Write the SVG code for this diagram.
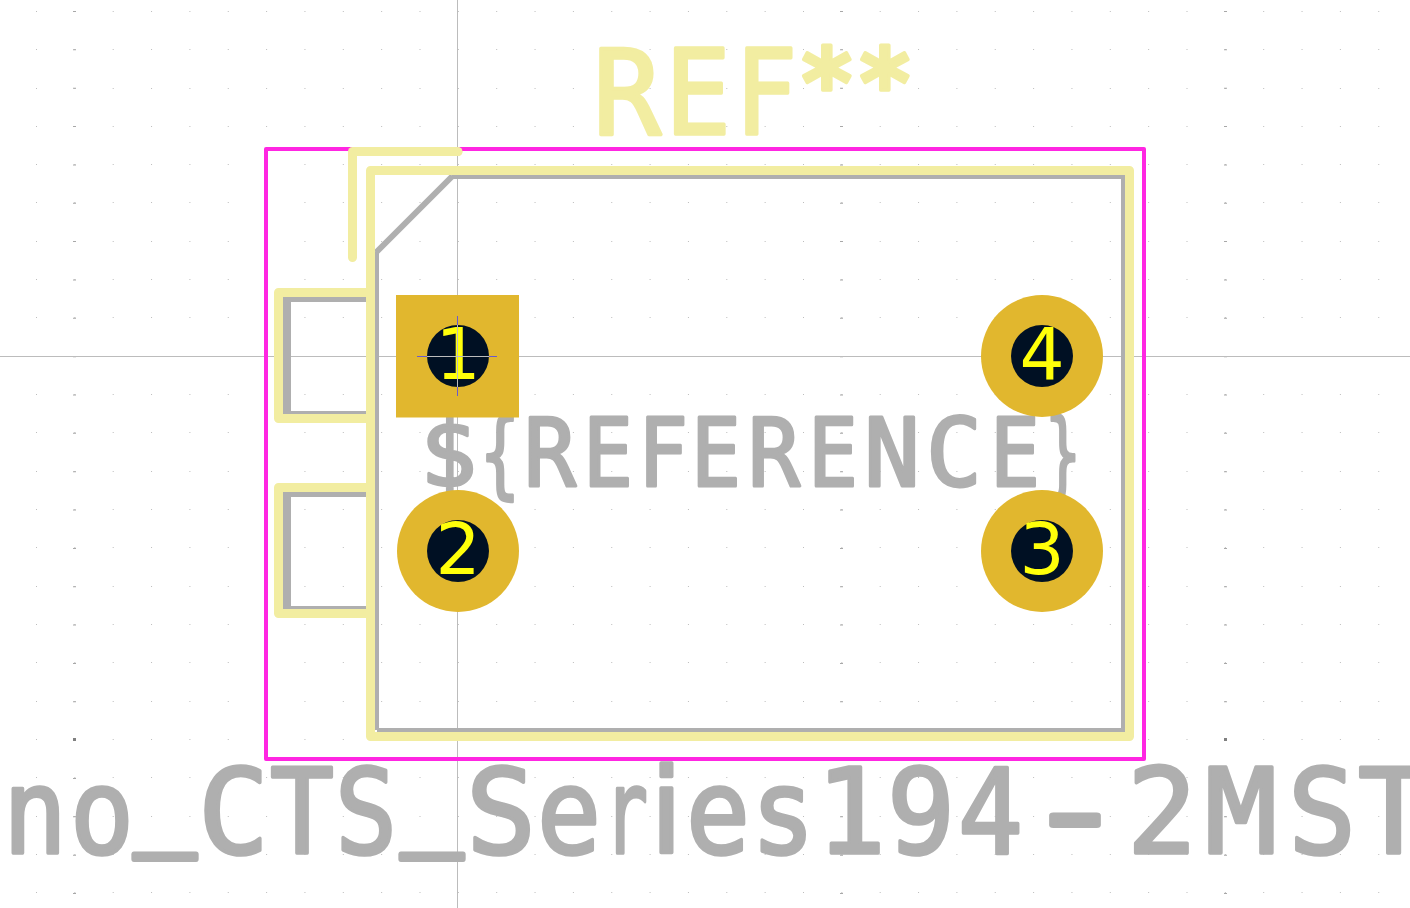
<svg xmlns="http://www.w3.org/2000/svg" width="1410" height="908" viewBox="0 0 1410 908">
<style>
.silk{fill:none;stroke:#f2eda1;stroke-width:9;stroke-linejoin:round;stroke-linecap:round}
.fab{fill:none;stroke:#afafaf;stroke-linejoin:miter}
.crt{fill:none;stroke:#ff26e2;stroke-width:4;stroke-linejoin:round}
.pad{fill:#e1b72e}
.hole{fill:#001023}
.num{font-family:"DejaVu Sans",sans-serif;font-size:71px;fill:#ffff0a;text-anchor:middle}
.big{font-family:"DejaVu Sans Mono",monospace;stroke-linejoin:round;stroke-linecap:round}
.y{fill:#f2eda1;stroke:#f2eda1}
.g{fill:#afafaf;stroke:#afafaf}
.ast{font-weight:bold;font-size:96px}
.bar{stroke-width:6}
.sans{font-family:"DejaVu Sans",sans-serif}
.cross{stroke:#bcbcbc;stroke-width:1;fill:none}
.mark{stroke:#6a5acd;stroke-width:1;fill:none}
</style>
<rect width="1410" height="908" fill="#ffffff"/>
<g id="grid">
<path fill="none" stroke="#bdbdbd" stroke-width="1" stroke-dasharray="1 37.35" d="M36 11.5H1410M36 49.5H1410M36 88.5H1410M36 126.5H1410M36 164.5H1410M36 202.5H1410M36 241.5H1410M36 279.5H1410M36 317.5H1410M36 394.5H1410M36 432.5H1410M36 471.5H1410M36 509.5H1410M36 547.5H1410M36 586.5H1410M36 624.5H1410M36 662.5H1410M36 701.5H1410M36 739.5H1410M36 777.5H1410M36 816.5H1410M36 854.5H1410M36 892.5H1410"/>
<path fill="none" stroke="#a8a8a8" stroke-width="3" stroke-dasharray="1 37.35" d="M74.5 11V908M841.5 11V908M1225.5 11V908"/>
<path fill="#808080" d="M73 738h3v3h-3zM840 738h3v3h-3zM1224 738h3v3h-3z"/>
</g>
<g id="axes">
<path class="cross" d="M457.5 0V908M0 356.5H1410"/>
</g>
<g id="fab">
<path class="fab" stroke-width="4" d="M377 730V252M452 177H1123V730H377"/>
<path class="fab" stroke-width="6" d="M376 252.5L452.5 176"/>
<path class="fab" stroke-width="5" d="M283 299.5H370M283 494.5H370"/>
<path class="fab" stroke-width="3" d="M283 412.5H370M283 607.5H370"/>
<path class="fab" stroke-width="8" d="M287 297V414M287 492V609"/>
</g>
<g id="silk">
<path class="silk" d="M370.5 170.5H1129.5V736.5H370.5Z"/>
<path class="silk" d="M352.5 257.5V151.5H458"/>
<path class="silk" d="M370 292.5H278.5V418.5H370"/>
<path class="silk" d="M370 487.5H278.5V613.5H370"/>
</g>
<g id="courtyard">
<path class="crt" d="M266 149H1144V759H266Z"/>
<path class="silk" d="M352.5 151.5H458"/>
</g>
<text id="ref" class="big y" font-size="118" stroke-width="3.5" y="133.5"><tspan x="593" textLength="68" lengthAdjust="spacingAndGlyphs">R</tspan><tspan x="665" textLength="66" lengthAdjust="spacingAndGlyphs">E</tspan><tspan x="735" textLength="62" lengthAdjust="spacingAndGlyphs">F</tspan><tspan class="ast" x="798" y="117">*</tspan><tspan class="ast" x="856" y="117">*</tspan></text>
<text id="value" class="big g" font-size="118" stroke-width="3.5" y="852.5"><tspan x="3" textLength="64" lengthAdjust="spacingAndGlyphs">n</tspan><tspan x="70" textLength="64" lengthAdjust="spacingAndGlyphs">o</tspan><tspan class="bar" x="134" y="830.5" textLength="62" lengthAdjust="spacingAndGlyphs">_</tspan><tspan x="198" y="852.5">C</tspan><tspan x="270" textLength="64" lengthAdjust="spacingAndGlyphs">T</tspan><tspan x="335" textLength="62" lengthAdjust="spacingAndGlyphs">S</tspan><tspan class="bar" x="401" y="830.5" textLength="62" lengthAdjust="spacingAndGlyphs">_</tspan><tspan x="466" y="852.5" textLength="70" lengthAdjust="spacingAndGlyphs">S</tspan><tspan x="537" textLength="64" lengthAdjust="spacingAndGlyphs">e</tspan><tspan x="604" textLength="44" lengthAdjust="spacingAndGlyphs">r</tspan><tspan class="sans" x="650">i</tspan><tspan x="686" textLength="64" lengthAdjust="spacingAndGlyphs">e</tspan><tspan x="751" textLength="64" lengthAdjust="spacingAndGlyphs">s</tspan><tspan x="816" textLength="70" lengthAdjust="spacingAndGlyphs">1</tspan><tspan x="887" textLength="68" lengthAdjust="spacingAndGlyphs">9</tspan><tspan x="958" textLength="65" lengthAdjust="spacingAndGlyphs">4</tspan><tspan class="bar" x="1024" textLength="102" lengthAdjust="spacingAndGlyphs">-</tspan><tspan x="1127" textLength="70" lengthAdjust="spacingAndGlyphs">2</tspan><tspan x="1205" textLength="72" lengthAdjust="spacingAndGlyphs">M</tspan><tspan x="1288" textLength="68" lengthAdjust="spacingAndGlyphs">S</tspan><tspan x="1358">T</tspan></text>
<text id="fabref" class="big g" font-size="95" stroke-width="3" y="485.7"><tspan x="420">$</tspan><tspan x="480" textLength="40" lengthAdjust="spacingAndGlyphs">{</tspan><tspan x="524" textLength="52" lengthAdjust="spacingAndGlyphs">R</tspan><tspan x="583" textLength="50" lengthAdjust="spacingAndGlyphs">E</tspan><tspan x="638" textLength="50" lengthAdjust="spacingAndGlyphs">F</tspan><tspan x="691" textLength="50" lengthAdjust="spacingAndGlyphs">E</tspan><tspan x="748" textLength="52" lengthAdjust="spacingAndGlyphs">R</tspan><tspan x="808" textLength="50" lengthAdjust="spacingAndGlyphs">E</tspan><tspan x="864" textLength="56" lengthAdjust="spacingAndGlyphs">N</tspan><tspan x="926" textLength="56" lengthAdjust="spacingAndGlyphs">C</tspan><tspan x="990" textLength="50" lengthAdjust="spacingAndGlyphs">E</tspan><tspan x="1045" textLength="36" lengthAdjust="spacingAndGlyphs">}</tspan></text>
<g id="pad1">
<rect class="pad" x="396" y="295" width="123" height="122.5"/>
<circle class="hole" cx="458" cy="356" r="31"/>
<path class="mark" d="M417 356.5H497M457.5 316V396"/>
<text class="num" x="458" y="379">1</text>
<path class="cross" d="M427 356.5H489M457.5 325V387"/>
</g>
<g id="pad2">
<circle class="pad" cx="458" cy="551" r="61"/>
<circle class="hole" cx="458" cy="551" r="31"/>
<text class="num" x="458" y="574">2</text>
</g>
<g id="pad3">
<circle class="pad" cx="1042" cy="551" r="61"/>
<circle class="hole" cx="1042" cy="551" r="31"/>
<text class="num" x="1042" y="574">3</text>
</g>
<g id="pad4">
<circle class="pad" cx="1042" cy="356" r="61"/>
<circle class="hole" cx="1042" cy="356" r="31"/>
<text class="num" x="1042" y="379">4</text>
</g>
</svg>
